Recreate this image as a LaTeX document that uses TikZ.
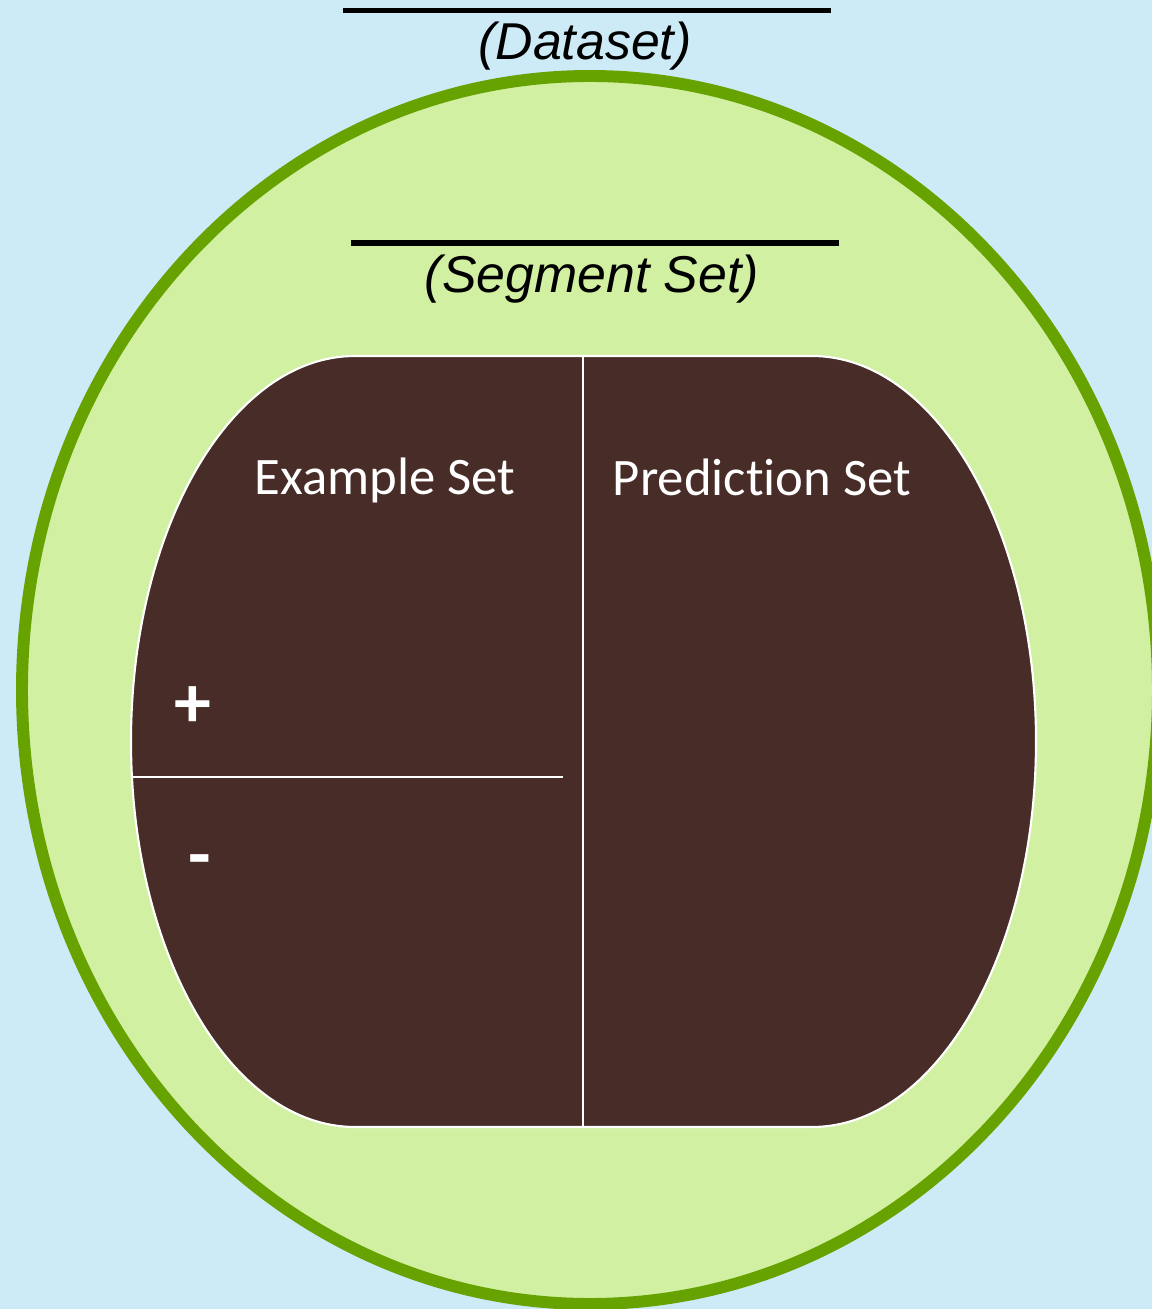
\documentclass[tikz,border=0pt]{standalone}
\usepackage{fontspec}
\setmainfont{Carlito}[Ligatures=NoCommon]
\newfontfamily\arialfont{Liberation Sans}
\usepackage{tikz}
\usetikzlibrary{positioning}
\definecolor{skyback}{RGB}{204,235,247}
\definecolor{limefill}{RGB}{210,240,162}
\definecolor{leafgreen}{RGB}{102,163,0}
\definecolor{darkbrown}{RGB}{72,44,39}

\begin{document}
\begin{tikzpicture}[
            x=0.02cm, y=0.02cm,
            every node/.style={inner sep=0pt},
            title/.style={font=\arialfont\itshape\fontsize{29.5}{32}\selectfont, text=black},
            bar/.style={line width=3.4pt, black},
            setlabel/.style={font=\fontsize{30}{34}\selectfont, text=white},
            sign/.style={font=\bfseries\fontsize{42}{44}\selectfont, text=white},
            divider/.style={line width=1.2pt, white},
        ]
            \useasboundingbox[fill=skyback] (0,0) rectangle (1152,1309);

            % outer dataset ellipse
            \draw[line width=6.8pt, draw=leafgreen, fill=limefill] (590,619) ellipse[x radius=568, y radius=614];

            % segment set shape
            \draw[line width=1.2pt, draw=white, fill=darkbrown]
                (355,953) -- (812,953) arc[start angle=90, end angle=-90, x radius=224, y radius=385.5]
                -- (355,182) arc[start angle=270, end angle=90, x radius=224, y radius=385.5] -- cycle;

            \coordinate (divtop) at (583,953);
            \coordinate (divbot) at (583,182);
            \coordinate (pmleft) at (131,532);
            \coordinate (pmright) at (563,532);
            \draw[divider] (divtop) -- (divbot);
            \draw[divider] (pmleft) -- (pmright);

            % titles with bars
            \coordinate (dsl) at (343,1298.5);
            \coordinate (dsr) at (831,1298.5);
            \coordinate (ssl) at (351,1066);
            \coordinate (ssr) at (839,1066);
            \draw[bar] (dsl) -- (dsr);
            \draw[bar] (ssl) -- (ssr);
            \node[title] (dataset) at (585,1263) {(Dataset)};
            \node[title] (segset) at (592,1030) {(Segment Set)};

            \node[setlabel] (example) at (385,829) {Example Set};
            \node[setlabel] (prediction) at (762,832) {Prediction Set};
            \node[sign] (plus) at (193,602) {+};
            \node[sign] (minus) at (200,442) {-};
        \end{tikzpicture}
\end{document}
